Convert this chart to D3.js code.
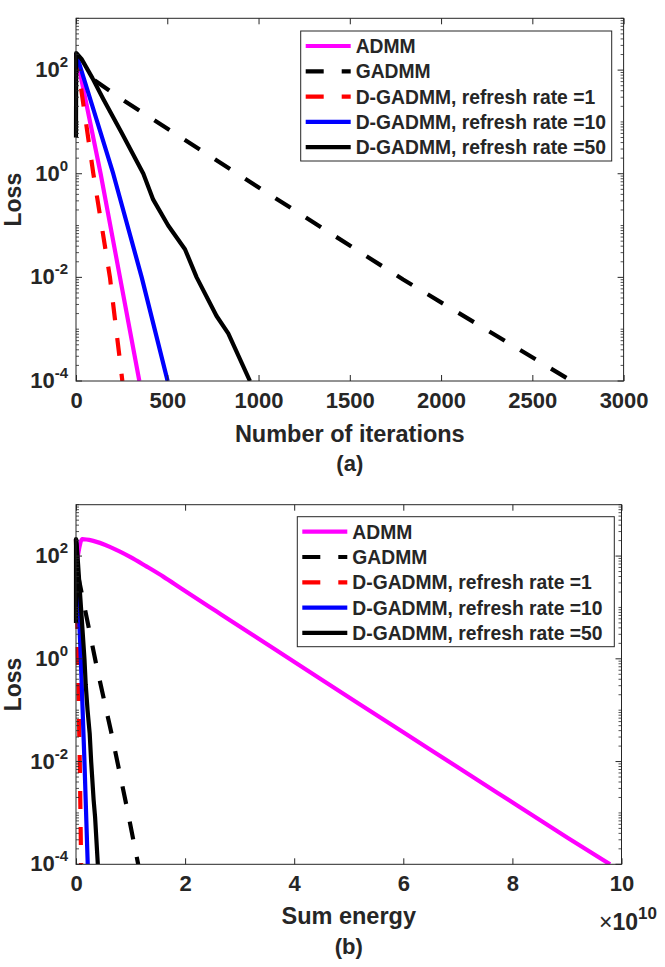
<!DOCTYPE html>
<html><head><meta charset="utf-8">
<script src="https://cdn.jsdelivr.net/npm/d3@7/dist/d3.min.js"></script>
<style>
body{margin:0;background:#fff}
text{font-family:"Liberation Sans",Arial,Helvetica,sans-serif;font-weight:bold;fill:#262626}
</style>
</head><body>
<svg id="c" width="665" height="967"></svg>
<script>
// ---------- data ----------
const seriesNames = ["ADMM","GADMM","D-GADMM, refresh rate =1","D-GADMM, refresh rate =10","D-GADMM, refresh rate =50"];
const seriesColors = ["#ff00ff","#000000","#ff0000","#0000ff","#000000"];
const seriesDashed = [false,true,true,false,false];

// panel (a): loss vs number of iterations
const iterTicks = [0,500,1000,1500,2000,2500,3000];
const a_ADMM_x  = [0,135,241,347];
const a_ADMM_y  = [214,1,0.01,0.0001];
const a_GADMM_x = [0,12,250,1017,1792,2715];
const a_GADMM_y = [214,105,27.5,0.5,0.0091,0.0001];
const a_R1_x    = [0,95,186,254];
const a_R1_y    = [214,1,0.01,0.0001];
const a_R10_x   = [0,204,360,502];
const a_R10_y   = [214,1,0.01,0.0001];
const a_R50_x   = [0,1,30,90,150,250,369,423,505,597,661,770,834,953];
const a_R50_y   = [5,214,165,70,27.5,6.2,1,0.316,0.1,0.035,0.01,0.0018,0.00083,0.0001];

// panel (b): loss vs sum energy (x 10^10)
const energyTicks = [0,2,4,6,8,10];
const b_ADMM_x  = [0,0.042,0.116,0.3,0.64,1.0,1.29,1.6,1.93,2.58,3.22,3.99,5.15,6.44,7.73,9.01,9.79];
const b_ADMM_y  = [50,112,214,200,148,95.5,63,39.8,23.4,8.3,3.0,0.89,0.141,0.0186,0.00245,0.00033,0.0001];
const b_GADMM_x = [0,0.005,0.042,0.386,0.644,0.934,1.14];
const b_GADMM_y = [214,100,40,0.65,0.038,0.00126,0.0001];
const b_R1_x    = [0,0.035,0.069,0.094];
const b_R1_y    = [214,1,0.01,0.0001];
const b_R10_x   = [0,0.088,0.155,0.215];
const b_R10_y   = [214,1,0.01,0.0001];
const b_R50_x   = [0,0.0004,0.013,0.038,0.063,0.105,0.155,0.178,0.212,0.251,0.278,0.323,0.350,0.40];
const b_R50_y   = [5,214,165,70,27.5,6.2,1,0.316,0.1,0.035,0.01,0.0018,0.00083,0.0001];

const yLabelExps = [-4,-2,0,2];

// ---------- drawing ----------
const svg = d3.select("#c");
const AX = "#262626";

function zip(xs, ys){ return xs.map((x,i)=>[x, ys[i]]); }

function panel(cfg, id){
  const g = svg.append("g");
  const x = d3.scaleLinear().domain(cfg.xDomain).range([cfg.left, cfg.right]);
  const y = d3.scaleLog().domain([1e-4,1e3]).range([cfg.bottom, cfg.top]);

  g.append("rect").attr("x",cfg.left).attr("y",cfg.top)
   .attr("width",cfg.right-cfg.left).attr("height",cfg.bottom-cfg.top).attr("fill","#fff");

  const clipId = "clip"+id;
  svg.append("clipPath").attr("id",clipId).append("rect")
    .attr("x",cfg.left-4).attr("y",cfg.top-3).attr("width",cfg.right-cfg.left+4).attr("height",cfg.bottom-cfg.top+3);

  // series
  const lines = g.append("g").attr("clip-path",`url(#${clipId})`);
  cfg.series.forEach((s,i)=>{
    const line = d3.line().x(d=>x(d[0])).y(d=>y(d[1]))
      .curve(cfg.smooth && cfg.smooth[i] ? d3.curveMonotoneX : d3.curveLinear);
    lines.append("path").attr("d", line(zip(s[0], s[1])))
      .attr("fill","none").attr("stroke",seriesColors[i]).attr("stroke-width",4.2)
      .attr("stroke-linejoin","round")
      .attr("stroke-dasharray", seriesDashed[i] ? "18,18" : null);
  });

  // box
  g.append("rect").attr("x",cfg.left).attr("y",cfg.top)
   .attr("width",cfg.right-cfg.left).attr("height",cfg.bottom-cfg.top)
   .attr("fill","none").attr("stroke",AX).attr("stroke-width",1);

  // x ticks (inward, bottom and top)
  const xb = d3.axisBottom(x).tickValues(cfg.xTicks).tickSize(-6).tickPadding(12).tickFormat(d3.format("d"));
  const xa = g.append("g").attr("transform",`translate(0,${cfg.bottom})`).call(xb);
  xa.select(".domain").remove();
  xa.selectAll("line").attr("stroke",AX);
  xa.selectAll("text").attr("font-size",22).attr("fill",AX).attr("dy","0.71em")
    .attr("y",11).style("font-family",'"Liberation Sans",Arial,sans-serif').style("font-weight","bold");
  const xt = g.append("g").attr("transform",`translate(0,${cfg.top})`)
    .call(d3.axisTop(x).tickValues(cfg.xTicks).tickSize(-6).tickFormat(""));
  xt.select(".domain").remove();
  xt.selectAll("line").attr("stroke",AX);

  // y ticks: major + minor, both sides inward
  const minor = [];
  for (let e=-4; e<3; e++) for (let m=1; m<10; m++){
    const v = m*Math.pow(10,e);
    if (!(m===1 && yLabelExps.includes(e))) minor.push(v);
  }
  minor.push(1000);
  const major = yLabelExps.map(e=>Math.pow(10,e));
  [[cfg.left,1],[cfg.right,-1]].forEach(([px,dir])=>{
    g.append("g").selectAll("line").data(minor).join("line")
      .attr("x1",px).attr("x2",px+dir*3).attr("y1",d=>y(d)).attr("y2",d=>y(d))
      .attr("stroke",AX).attr("stroke-width",0.8);
    g.append("g").selectAll("line").data(major).join("line")
      .attr("x1",px).attr("x2",px+dir*6).attr("y1",d=>y(d)).attr("y2",d=>y(d))
      .attr("stroke",AX).attr("stroke-width",1);
  });
  // y labels 10^k
  const yl = g.append("g").selectAll("text").data(yLabelExps).join("text")
    .attr("x",cfg.left-8).attr("y",d=>y(Math.pow(10,d))+7)
    .attr("text-anchor","end").attr("font-size",22);
  yl.append("tspan").text("10");
  yl.append("tspan").attr("dy",-10).attr("font-size",15).text(d=>String(d));

  // axis labels
  g.append("text").attr("transform",`translate(${21},${(cfg.top+cfg.bottom)/2}) rotate(-90)`)
    .attr("text-anchor","middle").attr("font-size",23).text("Loss");
  g.append("text").attr("x",(cfg.left+cfg.right)/2).attr("y",cfg.xLabelY)
    .attr("text-anchor","middle").attr("font-size",23.5).text(cfg.xLabel);
  g.append("text").attr("x",(cfg.left+cfg.right)/2).attr("y",cfg.capY)
    .attr("text-anchor","middle").attr("font-size",22).text(cfg.caption);

  if (cfg.exponent){
    const t = g.append("text").attr("x",657).attr("y",cfg.bottom+66)
      .attr("text-anchor","end").attr("font-size",23);
    t.append("tspan").style("font-weight","normal").text("\u00d7");
    t.append("tspan").text("10");
    t.append("tspan").attr("dy",-11).attr("font-size",17).text("10");
  }

  // legend
  const L = cfg.legend;
  g.append("rect").attr("x",L.x).attr("y",L.y).attr("width",L.w).attr("height",L.h)
    .attr("fill","#fff").attr("stroke",AX).attr("stroke-width",1);
  seriesNames.forEach((n,i)=>{
    const yy = L.y + 15 + i*25.3;
    g.append("line").attr("x1",L.x+5).attr("x2",L.x+50).attr("y1",yy).attr("y2",yy)
      .attr("stroke",seriesColors[i]).attr("stroke-width",4.2)
      .attr("stroke-dasharray", seriesDashed[i] ? "18,18" : null);
    g.append("text").attr("x",L.x+55).attr("y",yy+7).attr("font-size",19.3).text(n);
  });
}

panel({
  left:76, right:623.6, top:18.3, bottom:381,
  xDomain:[0,3000], xTicks:iterTicks,
  series:[[a_ADMM_x,a_ADMM_y],[a_GADMM_x,a_GADMM_y],[a_R1_x,a_R1_y],[a_R10_x,a_R10_y],[a_R50_x,a_R50_y]],
  xLabel:"Number of iterations", xLabelY:442, caption:"(a)", capY:471,
  legend:{x:300.7,y:31,w:311,h:130}
},"a");

panel({
  left:76, right:621.5, top:504.7, bottom:864.3,
  xDomain:[0,10], xTicks:energyTicks, smooth:[true,false,false,false,false],
  series:[[b_ADMM_x,b_ADMM_y],[b_GADMM_x,b_GADMM_y],[b_R1_x,b_R1_y],[b_R10_x,b_R10_y],[b_R50_x,b_R50_y]],
  xLabel:"Sum energy", xLabelY:924, caption:"(b)", capY:954, exponent:true,
  legend:{x:297.3,y:516.7,w:317,h:130}
},"b");
</script>
</body></html>
